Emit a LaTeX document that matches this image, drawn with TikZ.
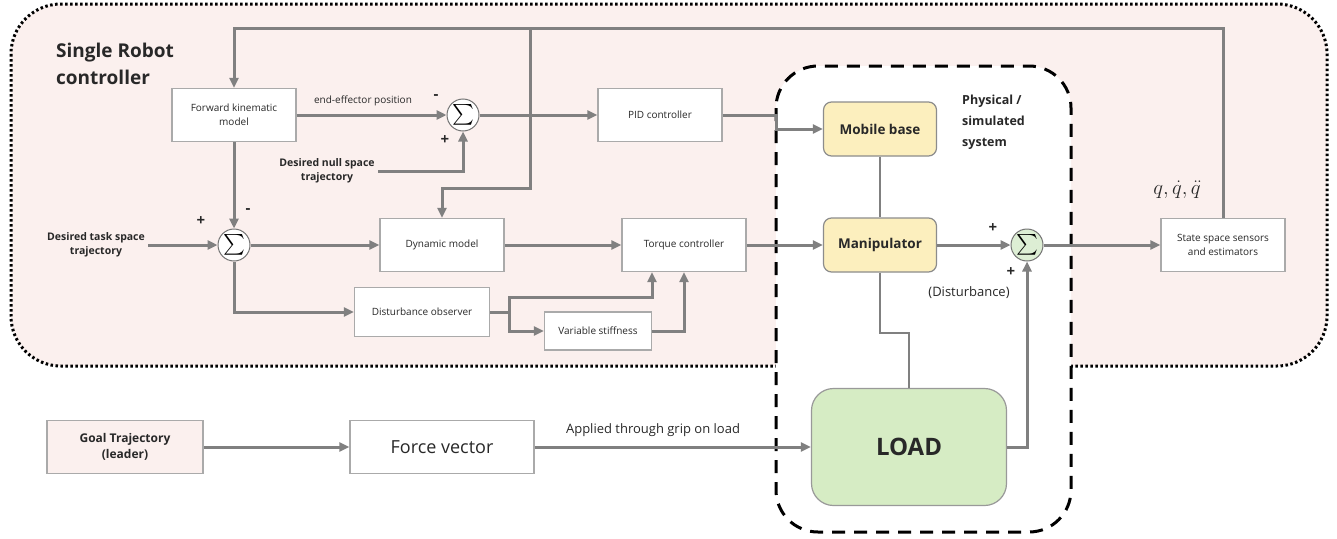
\documentclass[tikz,border=0pt]{standalone}
\usepackage{amsmath}
\usepackage{fontspec}
\setmainfont{Open Sans}
\usetikzlibrary{arrows.meta}
\definecolor{bgpink}{RGB}{251,240,238}
\definecolor{wiregray}{RGB}{128,128,128}
\definecolor{boxline}{RGB}{170,170,170}
\definecolor{sysyellow}{RGB}{252,239,190}
\definecolor{loadgreen}{RGB}{214,236,196}
\definecolor{sumgreen}{RGB}{221,238,212}
\definecolor{txt}{RGB}{40,40,40}

\begin{document}
\begin{tikzpicture}[x=1pt,y=-1pt,
    blk/.style={draw=boxline, line width=1.2pt, fill=white, align=center, text=txt,
      font=\fontsize{10}{14}\selectfont, minimum width=124pt, minimum height=53pt, inner sep=2pt},
    sysblk/.style={blk, draw=black!45, fill=sysyellow, rounded corners=8pt,
      font=\bfseries\fontsize{13.5}{16}\selectfont, minimum width=113pt, minimum height=54pt},
    sumnode/.style={circle, draw=black!55, line width=1pt, fill=white, minimum size=32pt,
      inner sep=0pt, font=\fontsize{20}{20}\selectfont},
    lbl/.style={text=txt, align=center, font=\bfseries\fontsize{10.5}{14}\selectfont},
    sgn/.style={text=txt, font=\bfseries\fontsize{15}{15}\selectfont, inner sep=0pt},
    wire/.style={draw=wiregray, line width=3pt},
    thinwire/.style={draw=wiregray, line width=2pt},
    sig/.style={wire, -{Triangle[length=10pt,width=9pt]}}
  ]
  \useasboundingbox (0,0) rectangle (1337,538);

  \draw [fill=bgpink, line width=3pt, dash pattern=on 2.5pt off 2.5pt, rounded corners=50pt]
    (11,4) rectangle (1327,366);
  \draw [fill=white, line width=3pt, dash pattern=on 13pt off 9pt, rounded corners=42pt]
    (776,66) rectangle (1071,532);

  \node [text=txt, align=left, anchor=west, inner sep=0pt, font=\bfseries\fontsize{19}{27}\selectfont]
    (title) at (56,64) {Single Robot\\controller};

  \node [blk] (fk) at (234,115) {Forward kinematic\\model};
  \node [sumnode] (s1) at (463,115) {$\sum$};
  \node [blk] (pid) at (660,115) {PID controller};
  \node [lbl] (nst) at (327,171) {Desired null space\\trajectory};
  \node [lbl] (dts) at (96,245) {Desired task space\\trajectory};
  \node [sumnode] (s2) at (234,245) {$\sum$};
  \node [blk] (dyn) at (442,245) {Dynamic model};
  \node [blk] (tc) at (684,245) {Torque controller};
  \node [blk, minimum width=135pt, minimum height=49pt] (dob) at (422,312) {Disturbance observer};
  \node [blk, minimum width=107pt, minimum height=38pt] (vs) at (598,331) {Variable stiffness};

  \node [sysblk] (mb) at (880,129) {Mobile base};
  \node [sysblk] (man) at (880,245) {Manipulator};
  \node [text=txt, align=left, anchor=west, inner sep=0pt, font=\bfseries\fontsize{12.5}{21}\selectfont]
    (phys) at (962,122) {Physical /\\simulated\\system};
  \node [sumnode, fill=sumgreen] (s3) at (1027,245) {$\sum$};
  \node [blk] (sse) at (1223,245) {State space sensors\\and estimators};
  \node [text=txt, font=\fontsize{20}{20}\selectfont] (qlbl) at (1177,190) {$q,\dot{q},\ddot{q}$};

  \node [blk, draw=black!40, fill=loadgreen, rounded corners=22pt, minimum width=195pt,
    minimum height=117pt, font=\bfseries\fontsize{24}{24}\selectfont] (load) at (909,447) {LOAD};
  \node [blk, fill=bgpink, minimum width=156pt, font=\bfseries\fontsize{12}{16}\selectfont]
    (goal) at (125,447) {Goal Trajectory\\(leader)};
  \node [blk, minimum width=184pt, font=\fontsize{18}{18}\selectfont] (fv) at (442,447) {Force vector};

  \node [text=txt, font=\fontsize{10}{10}\selectfont] (eep) at (363,101) {end-effector position};
  \node [text=txt, font=\fontsize{13}{13}\selectfont] (agl) at (653,430) {Applied through grip on load};
  \node [text=txt, font=\fontsize{13}{13}\selectfont] (dist) at (969,293) {(Disturbance)};

  \node [sgn] (s1m) at (436,97) {-};
  \node [sgn] (s1p) at (445,140) {+};
  \node [sgn] (s2m) at (248,211) {-};
  \node [sgn] (s2p) at (201,221) {+};
  \node [sgn] (s3p) at (993,228) {+};
  \node [sgn] (s3q) at (1011,272) {+};

  \coordinate (tap) at (530,28);
  \coordinate (jog) at (530,188);
  \coordinate (tcin) at ([xshift=-32pt]tc.south);

  \draw [sig] (sse.north) |- (tap) -| (fk.north);
  \draw [sig] (tap) -- (jog) -| (dyn.north);
  \draw [sig] (fk.east) -- (s1.west);
  \draw [sig] (fk.south) -- (s2.north);
  \draw [sig] (nst.east) -| (s1.south);
  \draw [sig] (s1.east) -- (pid.west);
  \draw [sig] (pid.east) -- ++(54,0) |- (mb.west);
  \draw [sig] (dts.east) -- (s2.west);
  \draw [sig] (s2.east) -- (dyn.west);
  \draw [sig] (dyn.east) -- (tc.west);
  \draw [sig] (tc.east) -- (man.west);
  \draw [sig] (s2.south) |- (dob.west);
  \draw [sig] (dob.east) -- ++(19,0) coordinate (br) -- ++(0,-15) -| (tcin);
  \draw [sig] (br) |- (vs.west);
  \draw [sig] (vs.east) -| (tc.south);
  \draw [thinwire] (mb.south) -- (man.north);
  \draw [thinwire] (man.south) -- ++(0,60) -| (load.north);
  \draw [sig] (man.east) -- (s3.west);
  \draw [sig] (s3.east) -- (sse.west);
  \draw [sig] (load.east) -| (s3.south);
  \draw [sig] (goal.east) -- (fv.west);
  \draw [sig] (fv.east) -- (load.west);
\end{tikzpicture}
\end{document}
